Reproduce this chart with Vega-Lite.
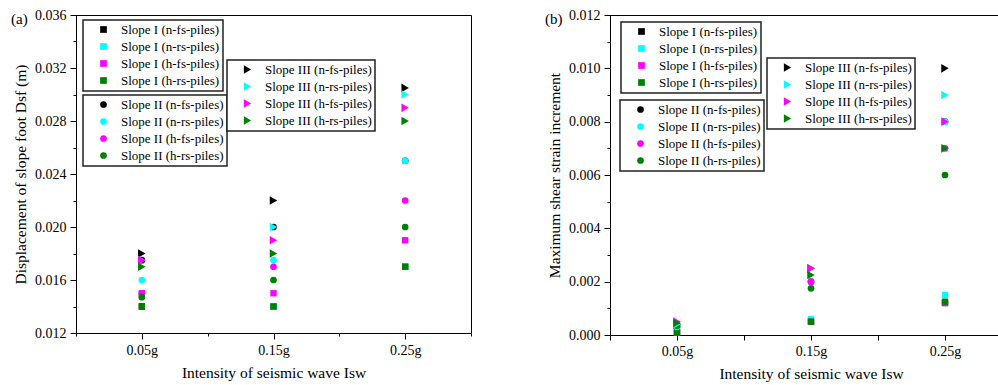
{
  "$schema": "https://vega.github.io/schema/vega-lite/v6.json",
  "padding": {"left": 10, "top": 7, "right": 0, "bottom": 0},
  "spacing": 72,
  "config": {
    "font": "Liberation Serif",
    "view": {"stroke": "black", "strokeWidth": 1},
    "axis": {
      "domainColor": "black", "tickColor": "black", "labelColor": "black", "titleColor": "black",
      "labelFont": "Liberation Serif", "titleFont": "Liberation Serif",
      "labelFontSize": 14, "titleFontSize": 15.5, "titleFontWeight": "normal",
      "grid": false, "domainWidth": 1, "tickWidth": 1, "labelPadding": 4
    },
    "legend": {
      "orient": "none", "title": null,
      "labelFont": "Liberation Serif", "labelFontSize": 13, "labelColor": "black",
      "strokeColor": "#222222", "strokeWidth": 1.5, "fillColor": "white",
      "padding": 3, "rowPadding": 3, "symbolOffset": 11, "labelOffset": 11,
      "symbolSize": 45, "symbolStrokeWidth": 0, "symbolOpacity": 1
    },
    "title": {"font": "Liberation Serif", "fontSize": 15, "fontWeight": "normal", "color": "black"}
  },
  "datasets": {
    "a": [
      {"slope": "I", "series": "Slope I (n-fs-piles)", "x": 0.05, "y": 0.014},
      {"slope": "I", "series": "Slope I (n-rs-piles)", "x": 0.05, "y": 0.015},
      {"slope": "I", "series": "Slope I (h-fs-piles)", "x": 0.05, "y": 0.015},
      {"slope": "I", "series": "Slope I (h-rs-piles)", "x": 0.05, "y": 0.014},
      {"slope": "I", "series": "Slope I (n-fs-piles)", "x": 0.15, "y": 0.014},
      {"slope": "I", "series": "Slope I (n-rs-piles)", "x": 0.15, "y": 0.014},
      {"slope": "I", "series": "Slope I (h-fs-piles)", "x": 0.15, "y": 0.015},
      {"slope": "I", "series": "Slope I (h-rs-piles)", "x": 0.15, "y": 0.014},
      {"slope": "I", "series": "Slope I (n-fs-piles)", "x": 0.25, "y": 0.017},
      {"slope": "I", "series": "Slope I (n-rs-piles)", "x": 0.25, "y": 0.017},
      {"slope": "I", "series": "Slope I (h-fs-piles)", "x": 0.25, "y": 0.019},
      {"slope": "I", "series": "Slope I (h-rs-piles)", "x": 0.25, "y": 0.017},
      {"slope": "II", "series": "Slope II (n-fs-piles)", "x": 0.05, "y": 0.0175},
      {"slope": "II", "series": "Slope II (n-rs-piles)", "x": 0.05, "y": 0.016},
      {"slope": "II", "series": "Slope II (h-fs-piles)", "x": 0.05, "y": 0.015},
      {"slope": "II", "series": "Slope II (h-rs-piles)", "x": 0.05, "y": 0.0147},
      {"slope": "II", "series": "Slope II (n-fs-piles)", "x": 0.15, "y": 0.02},
      {"slope": "II", "series": "Slope II (n-rs-piles)", "x": 0.15, "y": 0.0175},
      {"slope": "II", "series": "Slope II (h-fs-piles)", "x": 0.15, "y": 0.017},
      {"slope": "II", "series": "Slope II (h-rs-piles)", "x": 0.15, "y": 0.016},
      {"slope": "II", "series": "Slope II (n-fs-piles)", "x": 0.25, "y": 0.025},
      {"slope": "II", "series": "Slope II (n-rs-piles)", "x": 0.25, "y": 0.025},
      {"slope": "II", "series": "Slope II (h-fs-piles)", "x": 0.25, "y": 0.022},
      {"slope": "II", "series": "Slope II (h-rs-piles)", "x": 0.25, "y": 0.02},
      {"slope": "III", "series": "Slope III (n-fs-piles)", "x": 0.05, "y": 0.018},
      {"slope": "III", "series": "Slope III (n-rs-piles)", "x": 0.05, "y": 0.0175},
      {"slope": "III", "series": "Slope III (h-fs-piles)", "x": 0.05, "y": 0.0175},
      {"slope": "III", "series": "Slope III (h-rs-piles)", "x": 0.05, "y": 0.017},
      {"slope": "III", "series": "Slope III (n-fs-piles)", "x": 0.15, "y": 0.022},
      {"slope": "III", "series": "Slope III (n-rs-piles)", "x": 0.15, "y": 0.02},
      {"slope": "III", "series": "Slope III (h-fs-piles)", "x": 0.15, "y": 0.019},
      {"slope": "III", "series": "Slope III (h-rs-piles)", "x": 0.15, "y": 0.018},
      {"slope": "III", "series": "Slope III (n-fs-piles)", "x": 0.25, "y": 0.0305},
      {"slope": "III", "series": "Slope III (n-rs-piles)", "x": 0.25, "y": 0.03},
      {"slope": "III", "series": "Slope III (h-fs-piles)", "x": 0.25, "y": 0.029},
      {"slope": "III", "series": "Slope III (h-rs-piles)", "x": 0.25, "y": 0.028}
    ],
    "b": [
      {"slope": "I", "series": "Slope I (n-fs-piles)", "x": 0.05, "y": 0.0001},
      {"slope": "I", "series": "Slope I (n-rs-piles)", "x": 0.05, "y": 0.0001},
      {"slope": "I", "series": "Slope I (h-fs-piles)", "x": 0.05, "y": 0.0001},
      {"slope": "I", "series": "Slope I (h-rs-piles)", "x": 0.05, "y": 0.0001},
      {"slope": "I", "series": "Slope I (n-fs-piles)", "x": 0.15, "y": 0.0005},
      {"slope": "I", "series": "Slope I (n-rs-piles)", "x": 0.15, "y": 0.0006},
      {"slope": "I", "series": "Slope I (h-fs-piles)", "x": 0.15, "y": 0.0005},
      {"slope": "I", "series": "Slope I (h-rs-piles)", "x": 0.15, "y": 0.0005},
      {"slope": "I", "series": "Slope I (n-fs-piles)", "x": 0.25, "y": 0.0012},
      {"slope": "I", "series": "Slope I (n-rs-piles)", "x": 0.25, "y": 0.0015},
      {"slope": "I", "series": "Slope I (h-fs-piles)", "x": 0.25, "y": 0.0012},
      {"slope": "I", "series": "Slope I (h-rs-piles)", "x": 0.25, "y": 0.00125},
      {"slope": "II", "series": "Slope II (n-fs-piles)", "x": 0.05, "y": 0.0003},
      {"slope": "II", "series": "Slope II (n-rs-piles)", "x": 0.05, "y": 0.0003},
      {"slope": "II", "series": "Slope II (h-fs-piles)", "x": 0.05, "y": 0.0004},
      {"slope": "II", "series": "Slope II (h-rs-piles)", "x": 0.05, "y": 0.00035},
      {"slope": "II", "series": "Slope II (n-fs-piles)", "x": 0.15, "y": 0.002},
      {"slope": "II", "series": "Slope II (n-rs-piles)", "x": 0.15, "y": 0.002},
      {"slope": "II", "series": "Slope II (h-fs-piles)", "x": 0.15, "y": 0.002},
      {"slope": "II", "series": "Slope II (h-rs-piles)", "x": 0.15, "y": 0.00175},
      {"slope": "II", "series": "Slope II (n-fs-piles)", "x": 0.25, "y": 0.008},
      {"slope": "II", "series": "Slope II (n-rs-piles)", "x": 0.25, "y": 0.008},
      {"slope": "II", "series": "Slope II (h-fs-piles)", "x": 0.25, "y": 0.007},
      {"slope": "II", "series": "Slope II (h-rs-piles)", "x": 0.25, "y": 0.006},
      {"slope": "III", "series": "Slope III (n-fs-piles)", "x": 0.05, "y": 0.0004},
      {"slope": "III", "series": "Slope III (n-rs-piles)", "x": 0.05, "y": 0.0004},
      {"slope": "III", "series": "Slope III (h-fs-piles)", "x": 0.05, "y": 0.0005},
      {"slope": "III", "series": "Slope III (h-rs-piles)", "x": 0.05, "y": 0.00045},
      {"slope": "III", "series": "Slope III (n-fs-piles)", "x": 0.15, "y": 0.0025},
      {"slope": "III", "series": "Slope III (n-rs-piles)", "x": 0.15, "y": 0.0025},
      {"slope": "III", "series": "Slope III (h-fs-piles)", "x": 0.15, "y": 0.0025},
      {"slope": "III", "series": "Slope III (h-rs-piles)", "x": 0.15, "y": 0.00225},
      {"slope": "III", "series": "Slope III (n-fs-piles)", "x": 0.25, "y": 0.01},
      {"slope": "III", "series": "Slope III (n-rs-piles)", "x": 0.25, "y": 0.009},
      {"slope": "III", "series": "Slope III (h-fs-piles)", "x": 0.25, "y": 0.008},
      {"slope": "III", "series": "Slope III (h-rs-piles)", "x": 0.25, "y": 0.007}
    ]
  },
  "resolve": {"scale": {"color": "independent"}},
  "hconcat": [
    {
      "width": 395, "height": 318,
      "title": {"text": "(a)", "anchor": "start", "frame": "group", "dx": -65, "dy": 23},
      "data": {"name": "a"},
      "encoding": {
        "x": {"field": "x", "type": "quantitative",
          "scale": {"domain": [0, 0.3], "nice": false, "zero": false},
          "axis": {"values": [0, 0.05, 0.1, 0.15, 0.2, 0.25, 0.3],
            "labelExpr": "round(datum.value*100) % 10 == 5 ? format(datum.value, '.2f') + 'g' : ''",
            "tickSize": {"condition": {"test": "round(datum.value*100) % 10 == 5", "value": 6}, "value": 3},
            "labelPadding": 4, "titlePadding": 8, "labelFlush": false,
            "title": "Intensity of seismic wave Isw"}},
        "y": {"field": "y", "type": "quantitative",
          "scale": {"domain": [0.012, 0.036], "nice": false, "zero": false},
          "axis": {"values": [0.012, 0.014, 0.016, 0.018, 0.02, 0.022, 0.024, 0.026, 0.028, 0.03, 0.032, 0.034, 0.036],
            "labelExpr": "round(datum.value*1000) % 4 == 0 ? format(datum.value, '.3f') : ''",
            "tickSize": {"condition": {"test": "round(datum.value*1000) % 4 == 0", "value": 6}, "value": 3},
            "labelPadding": 4, "titlePadding": 6,
            "title": "Displacement of slope foot Dsf (m)"}}
      },
      "layer": [
        {
          "transform": [{"filter": "datum.slope == 'I'"}],
          "mark": {"type": "point", "shape": "square", "filled": true, "opacity": 1, "size": 40},
          "encoding": {"color": {"field": "series", "type": "nominal", "sort": null,
            "scale": {"domain": ["Slope I (n-fs-piles)", "Slope I (n-rs-piles)", "Slope I (h-fs-piles)", "Slope I (h-rs-piles)"], "range": ["#000000", "#00ffff", "#ff00ff", "#008000"]},
            "legend": {"symbolType": "square", "legendX": 7, "legendY": 5}}}
        },
        {
          "transform": [{"filter": "datum.slope == 'II'"}],
          "mark": {"type": "point", "shape": "circle", "filled": true, "opacity": 1, "size": 45},
          "encoding": {"color": {"field": "series", "type": "nominal", "sort": null,
            "scale": {"domain": ["Slope II (n-fs-piles)", "Slope II (n-rs-piles)", "Slope II (h-fs-piles)", "Slope II (h-rs-piles)"], "range": ["#000000", "#00ffff", "#ff00ff", "#008000"]},
            "legend": {"symbolType": "circle", "legendX": 7, "legendY": 80}}}
        },
        {
          "transform": [{"filter": "datum.slope == 'III'"}],
          "mark": {"type": "point", "shape": "triangle-right", "filled": true, "opacity": 1, "size": 75},
          "encoding": {"color": {"field": "series", "type": "nominal", "sort": null,
            "scale": {"domain": ["Slope III (n-fs-piles)", "Slope III (n-rs-piles)", "Slope III (h-fs-piles)", "Slope III (h-rs-piles)"], "range": ["#000000", "#00ffff", "#ff00ff", "#008000"]},
            "legend": {"symbolType": "triangle-right", "symbolSize": 70, "legendX": 151, "legendY": 45}}}
        }
      ],
      "resolve": {"scale": {"color": "independent"}}
    },
    {
      "width": 402, "height": 320,
      "title": {"text": "(b)", "anchor": "start", "frame": "group", "dx": -65, "dy": 23},
      "data": {"name": "b"},
      "encoding": {
        "x": {"field": "x", "type": "quantitative",
          "scale": {"domain": [0, 0.3], "nice": false, "zero": false},
          "axis": {"values": [0, 0.05, 0.1, 0.15, 0.2, 0.25, 0.3],
            "labelExpr": "round(datum.value*100) % 10 == 5 ? format(datum.value, '.2f') + 'g' : ''",
            "tickSize": 5,
            "labelPadding": 4, "titlePadding": 8, "labelFlush": false,
            "title": "Intensity of seismic wave Isw"}},
        "y": {"field": "y", "type": "quantitative",
          "scale": {"domain": [0, 0.012], "nice": false, "zero": false},
          "axis": {"values": [0, 0.001, 0.002, 0.003, 0.004, 0.005, 0.006, 0.007, 0.008, 0.009, 0.01, 0.011, 0.012],
            "labelExpr": "round(datum.value*1000) % 2 == 0 ? format(datum.value, '.3f') : ''",
            "tickSize": {"condition": {"test": "round(datum.value*1000) % 2 == 0", "value": 6}, "value": 3},
            "labelPadding": 4, "titlePadding": 6,
            "title": "Maximum shear strain increment"}}
      },
      "layer": [
        {
          "transform": [{"filter": "datum.slope == 'I'"}],
          "mark": {"type": "point", "shape": "square", "filled": true, "opacity": 1, "size": 40},
          "encoding": {"color": {"field": "series", "type": "nominal", "sort": null,
            "scale": {"domain": ["Slope I (n-fs-piles)", "Slope I (n-rs-piles)", "Slope I (h-fs-piles)", "Slope I (h-rs-piles)"], "range": ["#000000", "#00ffff", "#ff00ff", "#008000"]},
            "legend": {"symbolType": "square", "legendX": 11, "legendY": 7}}}
        },
        {
          "transform": [{"filter": "datum.slope == 'II'"}],
          "mark": {"type": "point", "shape": "circle", "filled": true, "opacity": 1, "size": 45},
          "encoding": {"color": {"field": "series", "type": "nominal", "sort": null,
            "scale": {"domain": ["Slope II (n-fs-piles)", "Slope II (n-rs-piles)", "Slope II (h-fs-piles)", "Slope II (h-rs-piles)"], "range": ["#000000", "#00ffff", "#ff00ff", "#008000"]},
            "legend": {"symbolType": "circle", "legendX": 10, "legendY": 85}}}
        },
        {
          "transform": [{"filter": "datum.slope == 'III'"}],
          "mark": {"type": "point", "shape": "triangle-right", "filled": true, "opacity": 1, "size": 75},
          "encoding": {"color": {"field": "series", "type": "nominal", "sort": null,
            "scale": {"domain": ["Slope III (n-fs-piles)", "Slope III (n-rs-piles)", "Slope III (h-fs-piles)", "Slope III (h-rs-piles)"], "range": ["#000000", "#00ffff", "#ff00ff", "#008000"]},
            "legend": {"symbolType": "triangle-right", "symbolSize": 70, "legendX": 157, "legendY": 43}}}
        }
      ],
      "resolve": {"scale": {"color": "independent"}}
    }
  ]
}
